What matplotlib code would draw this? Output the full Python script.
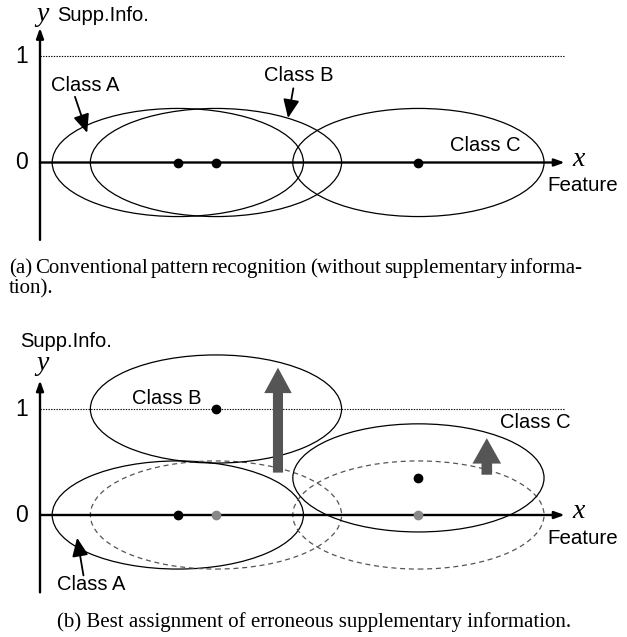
import matplotlib
matplotlib.use('Agg')
import matplotlib.pyplot as plt
from matplotlib.patches import Ellipse, FancyArrow

# ---- data (feature units; y = supplementary information) ----
class_names = ['Class A', 'Class B', 'Class C']
feature_pos = [1.30, 1.66, 3.57]          # class means on the feature axis
supp_before = [0.0, 0.0, 0.0]             # panel (a)
supp_after = [0.0, 1.0, 0.35]             # panel (b) best assignment
ell_width, ell_height = 2.37, 1.02
y_ticks = [0, 1]
caption_a = "(a) Conventional pattern recognition (without supplementary informa-"
caption_a2 = "tion)."
caption_b = "(b) Best assignment of erroneous supplementary information."

W, H, DPI, U = 627, 637, 100, 106.0
SANS = ['Liberation Sans', 'DejaVu Sans']
SERIF = ['Liberation Serif', 'DejaVu Serif']

fig = plt.figure(figsize=(W / DPI, H / DPI), dpi=DPI)


def panel(top, bottom, ox, oy):
    ax = fig.add_axes([0, 1 - bottom / H, 1, (bottom - top) / H])
    ax.set_xlim((0 - ox) / U, (W - ox) / U)
    ax.set_ylim((oy - bottom) / U, (oy - top) / U)
    ax.axis('off')
    return ax


def draw_axes(ax):
    ap = dict(arrowstyle='-|>,head_length=0.5,head_width=0.18', lw=1.7,
              color='black', shrinkA=0, shrinkB=0, mutation_scale=12)
    ax.annotate('', xy=(4.95, 0), xytext=(0, 0), arrowprops=ap, zorder=3)
    ax.annotate('', xy=(0, 1.27), xytext=(0, -0.73), arrowprops=ap, zorder=3)
    ax.plot([0, 4.95], [1, 1], ls=(0, (1.2, 1.2)), color='black', lw=0.8)
    for t in y_ticks:
        ax.text(-0.17, t, str(t), fontsize=16.5, family=SANS,
                ha='center', va='center')
    ax.text(5.08, 0.03, 'x', fontsize=20, family=SERIF, style='italic',
            ha='center', va='center')
    ax.text(5.12, -0.22, 'Feature', fontsize=14.8, family=SANS,
            ha='center', va='center')


def thin_arrow(ax, tail, tip):
    ax.annotate('', xy=tip, xytext=tail,
                arrowprops=dict(arrowstyle='-|>,head_length=0.8,head_width=0.35',
                                lw=1.3, color='black', shrinkA=0, shrinkB=0,
                                mutation_scale=14))


# ---------------- panel (a) ----------------
axa = panel(0, 250, 40, 162.5)
draw_axes(axa)
axa.text(0.02, 1.40, 'y', fontsize=20, family=SERIF, style='italic',
         ha='center', va='center')
axa.text(0.16, 1.39, 'Supp.Info.', fontsize=14.5, family=SANS,
         ha='left', va='center')
for x, y in zip(feature_pos, supp_before):
    axa.add_patch(Ellipse((x, y), ell_width, ell_height, fill=False,
                          ec='black', lw=0.9))
    axa.plot(x, y, 'o', color='black', ms=6, zorder=4)
axa.text(0.43, 0.73, class_names[0], fontsize=14.5, family=SANS,
         ha='center', va='center')
thin_arrow(axa, (0.33, 0.62), (0.445, 0.28))
axa.text(2.44, 0.825, class_names[1], fontsize=14.5, family=SANS,
         ha='center', va='center')
thin_arrow(axa, (2.39, 0.70), (2.34, 0.42))
axa.text(4.20, 0.165, class_names[2], fontsize=14.5, family=SANS,
         ha='center', va='center')

# ---------------- panel (b) ----------------
axb = panel(300, 600, 40, 515)
draw_axes(axb)
axb.text(0.02, 1.43, 'y', fontsize=20, family=SERIF, style='italic',
         ha='center', va='center')
axb.text(-0.19, 1.64, 'Supp.Info.', fontsize=14.5, family=SANS,
         ha='left', va='center')
for i, (x, y0, y1) in enumerate(zip(feature_pos, supp_before, supp_after)):
    if y1 != y0:
        axb.add_patch(Ellipse((x, y0), ell_width, ell_height, fill=False,
                              ec='#555555', lw=0.9, ls=(0, (4, 3))))
        axb.plot(x, y0, 'o', color='#888888', ms=6, zorder=4)
    axb.add_patch(Ellipse((x, y1), ell_width, ell_height, fill=False,
                          ec='black', lw=0.9))
    axb.plot(x, y1, 'o', color='black', ms=6, zorder=4)

# big movement arrows
axb.add_patch(FancyArrow(2.245, 0.40, 0, 0.99, width=0.095, head_width=0.26,
                         head_length=0.24, length_includes_head=True,
                         color='#555555', lw=0, zorder=5))
axb.add_patch(FancyArrow(4.215, 0.38, 0, 0.345, width=0.10, head_width=0.27,
                         head_length=0.24, length_includes_head=True,
                         color='#555555', lw=0, zorder=5))

axb.text(1.20, 1.10, class_names[1], fontsize=14.5, family=SANS,
         ha='center', va='center')
axb.text(4.67, 0.875, class_names[2], fontsize=14.5, family=SANS,
         ha='center', va='center')
axb.text(0.48, -0.66, class_names[0], fontsize=14.5, family=SANS,
         ha='center', va='center')
thin_arrow(axb, (0.41, -0.57), (0.35, -0.215))

# ---------------- captions ----------------
CAP_FS = 15


def justify(text, left, right, ypix):
    words = text.split(' ')
    objs = [fig.text(0, 1 - ypix / H, w, fontsize=CAP_FS, family=SERIF,
                     ha='left', va='baseline') for w in words]
    fig.canvas.draw()
    r = fig.canvas.get_renderer()
    widths = [o.get_window_extent(r).width for o in objs]
    gap = (right - left - sum(widths)) / (len(words) - 1)
    x = left
    for o, w in zip(objs, widths):
        o.set_x(x / W)
        x += w + gap


justify(caption_a, 9, 583, 273)
fig.text(9 / W, 1 - 293 / H, caption_a2, fontsize=CAP_FS, family=SERIF,
         ha='left', va='baseline')
fig.text(314 / W, 1 - 627 / H, caption_b, fontsize=CAP_FS, family=SERIF,
         ha='center', va='baseline')

fig.savefig('out.png', dpi=DPI)
